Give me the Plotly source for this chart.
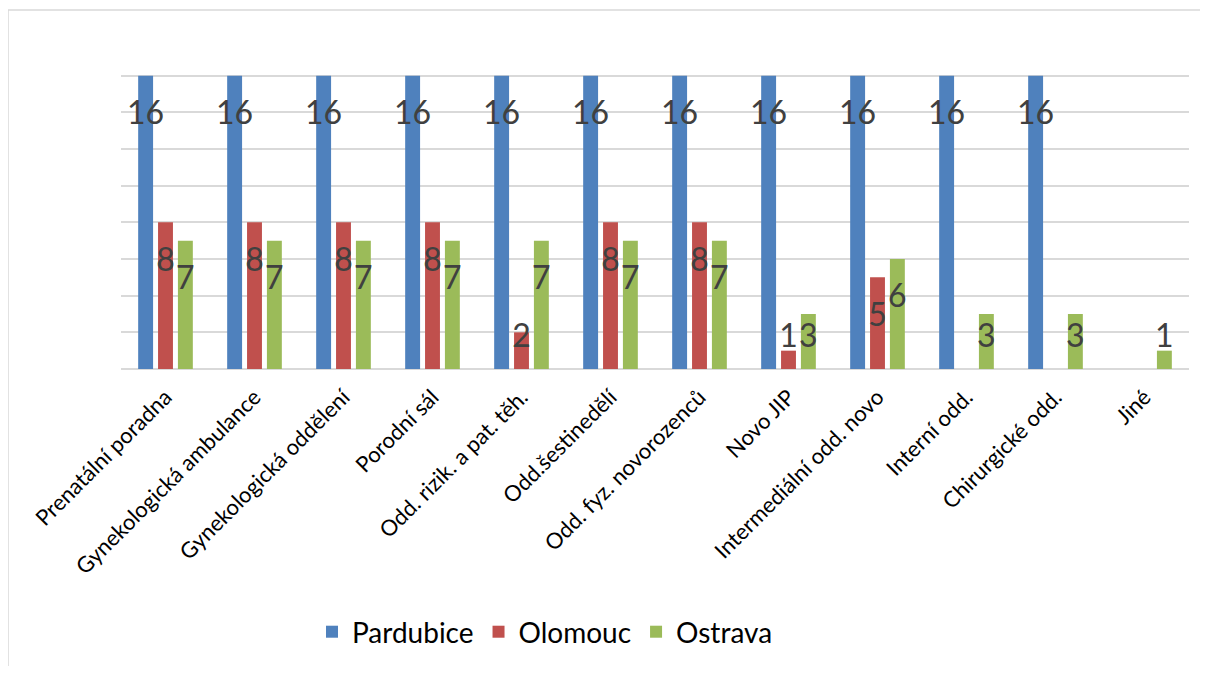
import plotly.graph_objects as go

categories = ["Prenatální poradna", "Gynekologická ambulance", "Gynekologická oddělení",
              "Porodní sál", "Odd. rizik. a pat. těh.", "Odd.šestinedělí",
              "Odd. fyz. novorozenců", "Novo JIP", "Intermediální odd. novo",
              "Interní odd.", "Chirurgické odd.", "Jiné"]
pardubice = [16, 16, 16, 16, 16, 16, 16, 16, 16, 16, 16, None]
olomouc = [8, 8, 8, 8, 2, 8, 8, 1, 5, None, None, None]
ostrava = [7, 7, 7, 7, 7, 7, 7, 3, 6, 3, 3, 1]

series = [("Pardubice", pardubice, "#4F81BD"),
          ("Olomouc", olomouc, "#C0504D"),
          ("Ostrava", ostrava, "#9BBB59")]

LABEL_DROP = 2.2   # label centre sits ~2 units below bar top (Excel inside-end look)
LABEL_MIN = 1.65   # clamp for short bars

fig = go.Figure()
for name, vals, color in series:
    fig.add_trace(go.Bar(x=categories, y=vals, name=name, offsetgroup=name,
                         marker=dict(color=color, line=dict(width=0))))
for name, vals, color in series:
    ly = [None if v is None else max(v - LABEL_DROP, LABEL_MIN) for v in vals]
    tx = ["" if v is None else str(v) for v in vals]
    fig.add_trace(go.Scatter(x=categories, y=ly, text=tx, mode="text", offsetgroup=name,
                             textposition="middle center", showlegend=False, hoverinfo="skip",
                             cliponaxis=False,
                             textfont=dict(family="Lato", size=32, color="#404040")))

border = dict(color="#D9D9D9", width=1.5)
fig.update_layout(
    width=1192, height=658,
    margin=dict(l=113, r=11, t=31, b=297, autoexpand=False),
    paper_bgcolor="white", plot_bgcolor="white",
    barmode="group", scattermode="group",
    bargap=0.33, bargroupgap=0.25,
    font=dict(family="Lato", color="black"),
    xaxis=dict(tickangle=-45, tickfont=dict(size=22, color="black"), showgrid=False,
               showline=False, ticks="", automargin=False, ticklabelstandoff=10),
    yaxis=dict(range=[0, 18], dtick=2, showticklabels=False, gridcolor="#D9D9D9",
               gridwidth=1.5, zeroline=True, zerolinecolor="#D9D9D9", zerolinewidth=1.5,
               showline=False, automargin=False),
    legend=dict(orientation="h", x=0.397, xanchor="center", y=-0.797, yanchor="middle",
                font=dict(size=28, color="black"), itemsizing="constant"),
    shapes=[dict(type="line", xref="paper", yref="paper", x0=-0.1058, x1=-0.1058,
                 y0=-1.2, y1=1.088, line=border, layer="below"),
            dict(type="line", xref="paper", yref="paper", x0=-0.1058, x1=1.2,
                 y0=1.088, y1=1.088, line=border, layer="below")],
)

fig.write_html("out.html")
